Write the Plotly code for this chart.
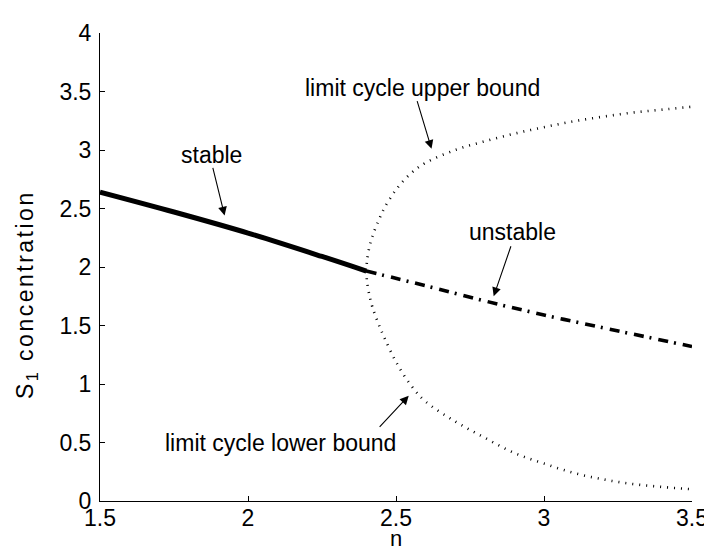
import plotly.graph_objects as go

# stable branch (solid)
stable_n = [1.5, 1.75, 2.0, 2.25, 2.4]
stable_s1 = [2.64, 2.47, 2.29, 2.09, 1.965]

# unstable branch (dash-dot)
unstable_n = [2.4, 2.6, 2.8, 3.0, 3.2, 3.35, 3.5]
unstable_s1 = [1.965, 1.84, 1.71, 1.59, 1.48, 1.40, 1.32]

# limit cycle bounds (dotted)
cycle_n = [2.4, 2.402, 2.41, 2.42, 2.44, 2.46, 2.5, 2.55, 2.6, 2.7, 2.8, 2.9, 3.0, 3.1, 3.2, 3.3, 3.4, 3.5]
upper_s1 = [1.965, 2.05, 2.17, 2.26, 2.39, 2.50, 2.66, 2.80, 2.89, 3.00, 3.075, 3.14, 3.195, 3.245, 3.285, 3.32, 3.345, 3.37]
lower_s1 = [1.965, 1.88, 1.76, 1.66, 1.52, 1.40, 1.19, 0.99, 0.85, 0.68, 0.54, 0.41, 0.32, 0.24, 0.185, 0.145, 0.12, 0.10]

x_ticks = [1.5, 2, 2.5, 3, 3.5]
y_ticks = [0, 0.5, 1, 1.5, 2, 2.5, 3, 3.5, 4]

# labels: text, text centre, arrow tail, arrow tip
labels = [
    ("stable", (1.877, 2.955), (1.88, 2.86), (1.921, 2.44)),
    ("limit cycle upper bound", (2.59, 3.53), (2.57, 3.43), (2.62, 3.01)),
    ("unstable", (2.893, 2.30), (2.89, 2.19), (2.83, 1.75)),
    ("limit cycle lower bound", (2.11, 0.50), (2.44, 0.62), (2.543, 0.90)),
]

fig = go.Figure()
for ys in (upper_s1, lower_s1):
    fig.add_trace(go.Scatter(x=cycle_n, y=ys, mode='lines', line_shape='spline',
                             line=dict(color='black', width=2.6, dash='1px,6px')))
fig.add_trace(go.Scatter(x=unstable_n, y=unstable_s1, mode='lines', line_shape='spline',
                         line=dict(color='black', width=3.6, dash='10px,6px,2px,7px')))
fig.add_trace(go.Scatter(x=stable_n, y=stable_s1, mode='lines', line_shape='spline',
                         line=dict(color='black', width=5)))

for text, (tx, ty), (ax, ay), (hx, hy) in labels:
    fig.add_annotation(x=tx, y=ty, text=text, showarrow=False, xanchor='center', yanchor='middle',
                       font=dict(size=23, color='black'))
    fig.add_annotation(x=hx, y=hy, ax=ax, ay=ay, axref='x', ayref='y', text='',
                       showarrow=True, arrowhead=2, arrowsize=1.6, arrowwidth=1.1,
                       arrowcolor='black', standoff=0, startstandoff=0)

# axis titles as annotations so they sit where the reference has them
fig.add_annotation(x=0, y=1.76, xref='paper', yref='y', xshift=-74, textangle=-90,
                   xanchor='center', yanchor='middle',
                   text='<span style="letter-spacing:2.5px">S<sub>1</sub> concentration</span>',
                   showarrow=False, font=dict(size=23, color='black'))
fig.add_annotation(x=0.5, y=0, xref='paper', yref='paper', yshift=-37, text='n',
                   xanchor='center', yanchor='middle', borderpad=0,
                   showarrow=False, font=dict(size=22, color='black'))

axis_style = dict(showline=True, linecolor='black', linewidth=1, ticks='inside', ticklen=5,
                  tickcolor='black', showgrid=False, zeroline=False, mirror=False,
                  tickfont=dict(size=23, color='black'))

fig.update_layout(
    width=712, height=548,
    margin=dict(l=92, r=19, t=13, b=55),
    paper_bgcolor='white', plot_bgcolor='white',
    showlegend=False,
    font=dict(family='Liberation Sans, Arial, sans-serif', color='black'),
    xaxis=dict(range=[1.5, 3.5], tickvals=x_ticks, ticktext=[f'{v:g}' for v in x_ticks],
               ticklabelstandoff=-4, **axis_style),
    yaxis=dict(range=[0, 4], tickvals=y_ticks, ticktext=[f'{v:g}' for v in y_ticks],
               ticklabelstandoff=3, **axis_style),
)

fig.write_html("out.html")
